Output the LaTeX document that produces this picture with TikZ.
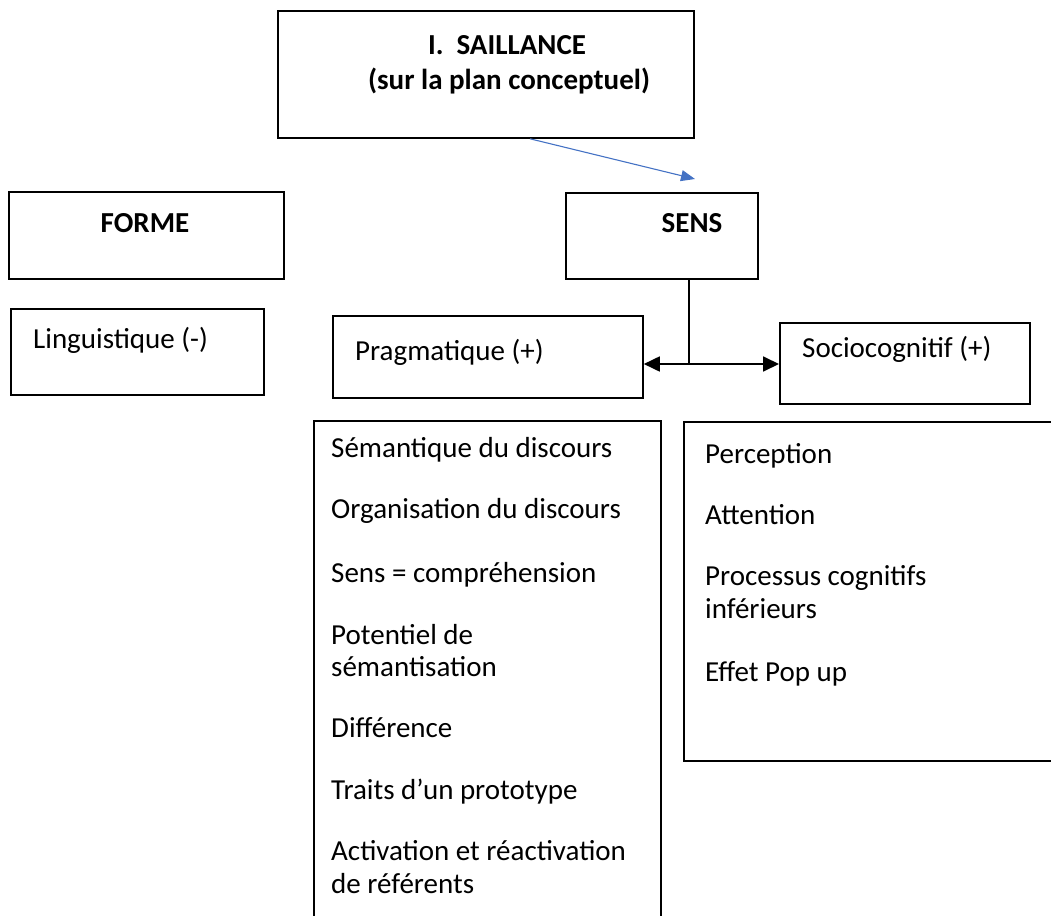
\documentclass[tikz,border=0pt]{standalone}
\usepackage{fontspec}
\setmainfont{Carlito}
\usetikzlibrary{arrows.meta}
\definecolor{officeblue}{RGB}{68,114,196}
\tikzset{
  box/.style={draw, line width=1.8pt, inner sep=0pt, anchor=north west},
  txt/.style={anchor=base west, inner sep=0pt, font=\fontsize{29}{35}\selectfont},
  ttl/.style={anchor=base, inner sep=0pt, font=\fontsize{29}{35}\selectfont\bfseries},
  conn/.style={line width=1.8pt},
  bigtip/.tip={Triangle[length=16pt,width=15pt]},
}
\begin{document}
\begin{tikzpicture}[x=1pt,y=-1pt]
\path[use as bounding box] (0,0) rectangle (1051,915);
\clip (0,0) rectangle (1051,915);
% boxes
\node[box, minimum width=416pt, minimum height=127pt] (top) at (277,10) {};
\node[box, minimum width=275pt, minimum height=87pt] (forme) at (8,191) {};
\node[box, minimum width=253pt, minimum height=86pt] (ling) at (10,308) {};
\node[box, minimum width=192pt, minimum height=86pt] (sens) at (565,192) {};
\node[box, minimum width=310pt, minimum height=82pt] (prag) at (332,315) {};
\node[box, minimum width=250pt, minimum height=81pt] (socio) at (779,322) {};
\node[box, minimum width=347pt, minimum height=520pt] (plist) at (313,420) {};
\node[box, minimum width=400pt, minimum height=339pt] (slist) at (683,421) {};
% titles
\node[ttl] (t1) at (507,55) {I.\ \ SAILLANCE};
\node[ttl] (t2) at (509,90) {(sur la plan conceptuel)};
\node[ttl] (tforme) at (145,232) {FORME};
\node[ttl] (tsens) at (692,232) {SENS};
% labels
\node[txt] (lling) at (33,348) {Linguistique (-)};
\node[txt] (lprag) at (355,360) {Pragmatique (+)};
\node[txt] (lsocio) at (802,357) {Sociocognitif (+)};
% left list
\node[txt] (p1) at (331,457) {Sémantique du discours};
\node[txt] (p2) at (331,518) {Organisation du discours};
\node[txt] (p3) at (331,582) {Sens = compréhension};
\node[txt] (p4) at (331,644) {Potentiel de};
\node[txt] (p4b) at (331,676) {sémantisation};
\node[txt] (p5) at (331,737) {Différence};
\node[txt] (p6) at (331,799) {Traits d’un prototype};
\node[txt] (p7) at (331,860) {Activation et réactivation};
\node[txt] (p7b) at (331,893) {de référents};
% right list
\node[txt] (s1) at (705,463) {Perception};
\node[txt] (s2) at (705,524) {Attention};
\node[txt] (s3) at (705,585) {Processus cognitifs};
\node[txt] (s3b) at (705,618) {inférieurs};
\node[txt] (s4) at (705,681) {Effet Pop up};
% connectors
\coordinate (j) at (689,364);
\coordinate (bluetip) at (695,179);
\draw[officeblue, line width=1.1pt, -{Triangle[length=14pt,width=11pt]}] (top.south -| 530,0) -- (bluetip);
\draw[conn] (j) -- (j |- sens.south);
\draw[conn, bigtip-bigtip] (prag.east |- j) -- (socio.west |- j);
\end{tikzpicture}
\end{document}
